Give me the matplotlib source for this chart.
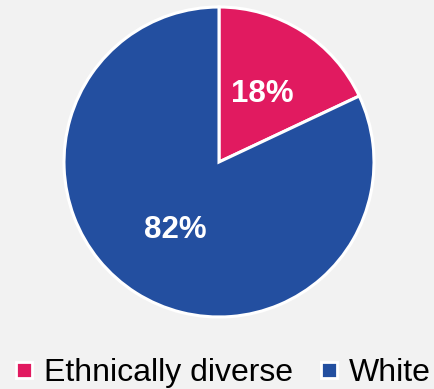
import matplotlib.pyplot as plt
from matplotlib.lines import Line2D

plt.rcParams['font.family'] = ['Liberation Sans', 'DejaVu Sans']

labels = ['Ethnically diverse', 'White']
values = [18, 82]
colors = ['#E11A60', '#234FA0']

fig = plt.figure(figsize=(4.34, 3.89), dpi=100, facecolor='#F2F2F2')
ax = fig.add_axes([(219 - 155) / 434, (389 - 317) / 389, 310 / 434, 310 / 389])
ax.set_facecolor('#F2F2F2')

wedges, texts, autotexts = ax.pie(
    values, colors=colors, startangle=90, counterclock=False,
    autopct='%1.0f%%', pctdistance=0.52,
    wedgeprops=dict(edgecolor='white', linewidth=2.2),
    textprops=dict(color='white', fontsize=22.5, fontweight='bold'))
ax.set_xlim(-1, 1)
ax.set_ylim(-1, 1)

handles = [Line2D([], [], marker='s', linestyle='none', markersize=12,
                  markerfacecolor=c, markeredgecolor='white', markeredgewidth=2)
           for c in colors]
fig.legend(handles, labels, loc='lower center', bbox_to_anchor=(0.513, -0.072),
           ncol=2, frameon=False, fontsize=23, handlelength=0.6,
           handletextpad=0.3, columnspacing=0.85)

fig.savefig('out.png', dpi=100, facecolor=fig.get_facecolor())
